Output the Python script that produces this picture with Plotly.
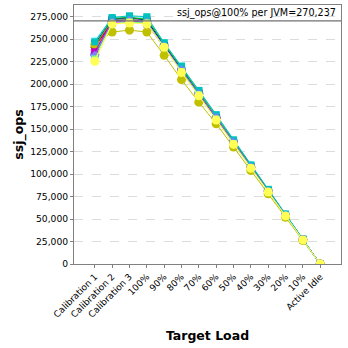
import plotly.graph_objects as go

categories = ["Calibration 1", "Calibration 2", "Calibration 3", "100%", "90%", "80%",
              "70%", "60%", "50%", "40%", "30%", "20%", "10%", "Active Idle"]

series_values = [
    [235000, 273000, 274000, 273000, 245000, 219000, 192000, 165000, 137000, 109000, 82000, 55000, 27500, 0],
    [233000, 270000, 272000, 270000, 243000, 216000, 190000, 163000, 136000, 108000, 81500, 54500, 27200, 0],
    [230000, 271000, 273000, 272000, 244000, 217000, 191000, 164000, 136500, 109000, 82000, 54800, 27300, 0],
    [238000, 268000, 270000, 269000, 242000, 215000, 189000, 162000, 135000, 108000, 81000, 54000, 27000, 0],
    [248000, 274000, 275000, 274000, 246000, 220000, 193000, 166000, 138000, 110500, 83000, 55500, 27800, 0],
    [240000, 272000, 273000, 271000, 244000, 218000, 191000, 164000, 137000, 109000, 82000, 55000, 27400, 0],
    [242000, 271000, 272000, 270000, 243000, 217000, 190000, 163000, 136000, 108500, 81500, 54500, 27200, 0],
    [241000, 269000, 271000, 268000, 241000, 215000, 188000, 162000, 135000, 107500, 81000, 54000, 27000, 0],
    [245000, 272000, 274000, 271000, 243000, 217000, 190000, 163000, 136000, 108000, 81000, 54000, 27000, 0],
    [243000, 273000, 274000, 272000, 245000, 218000, 192000, 165000, 138000, 110000, 82500, 55000, 27500, 0],
    [244000, 258000, 260000, 258000, 232000, 205000, 180000, 156000, 130000, 104000, 78000, 52000, 26000, 0],
    [236000, 270000, 271000, 267000, 241000, 214000, 188000, 162000, 135000, 108000, 81000, 54000, 27000, 0],
    [247000, 274000, 276000, 275000, 246000, 220000, 193000, 166000, 138000, 110000, 83000, 55500, 27700, 0],
    [232000, 269000, 271000, 269000, 242000, 216000, 189000, 163000, 135500, 108000, 81000, 54000, 27100, 0],
    [228000, 267000, 269000, 268000, 241000, 214000, 188000, 161000, 134000, 107000, 80500, 53800, 26900, 0],
    [225500, 267000, 268000, 267000, 241000, 213000, 187000, 160000, 133000, 106500, 80000, 53500, 26800, 0],
]

series_colors = ["#FF5555", "#5555FF", "#55FF55", "#FF55FF", "#55FFFF", "#FFAFAF",
                 "#808080", "#C00000", "#0000C0", "#00C000", "#C0C000", "#C000C0",
                 "#00C0C0", "#8080FF", "#80FF80", "#FFFF55"]
series_symbols = ["square", "circle", "triangle-up", "diamond", "square", "triangle-down",
                  "square", "diamond", "square", "triangle-up", "circle", "square",
                  "square", "diamond", "square", "circle"]

ref_value = 270237
ref_label = "ssj_ops@100% per JVM=270,237"
y_ticks = [0, 25000, 50000, 75000, 100000, 125000, 150000, 175000, 200000, 225000, 250000, 275000]

fig = go.Figure()
for i, vals in enumerate(series_values):
    sym = series_symbols[i]
    size = 9 if sym == "circle" else 7
    fig.add_trace(go.Scatter(
        x=list(range(len(categories))), y=vals, mode="lines+markers",
        line=dict(color=series_colors[i], width=1),
        marker=dict(symbol=sym, size=size, color=series_colors[i], line=dict(width=0)),
        showlegend=False, hoverinfo="skip"))

fig.add_shape(type="line", xref="paper", yref="y", x0=0, x1=1, y0=ref_value, y1=ref_value,
              line=dict(color="#707070", width=1.2))
fig.add_annotation(xref="paper", yref="y", x=0.99, y=ref_value, text=ref_label,
                   showarrow=False, xanchor="right", yanchor="bottom", yshift=0,
                   font=dict(family="DejaVu Sans", size=9.6, color="#000000"))

fig.update_layout(
    width=348, height=348, margin=dict(l=74, r=7, t=5, b=84),
    paper_bgcolor="white", plot_bgcolor="white",
    font=dict(family="DejaVu Sans", color="#000000"),
    xaxis=dict(range=[-1.2, 14.2], tickmode="array", tickvals=list(range(len(categories))),
               ticktext=categories, tickangle=-45, tickfont=dict(size=9),
               showgrid=False, showline=True, linecolor="#808080", mirror=True,
               ticks="outside", ticklen=3, tickcolor="#808080", zeroline=False,
               title=dict(text="<b>Target Load</b>", font=dict(size=12.5), standoff=12)),
    yaxis=dict(range=[0, 288000], tickvals=y_ticks, tickformat=",", tickfont=dict(size=9.2),
               showgrid=True, gridcolor="#dcdcdc", griddash="dash", gridwidth=1,
               showline=True, linecolor="#808080", mirror=True, zeroline=False,
               ticks="outside", ticklen=3, tickcolor="#808080",
               title=dict(text="<b>ssj_ops</b>", font=dict(size=12.5), standoff=3)),
)

fig.write_html("out.html")
